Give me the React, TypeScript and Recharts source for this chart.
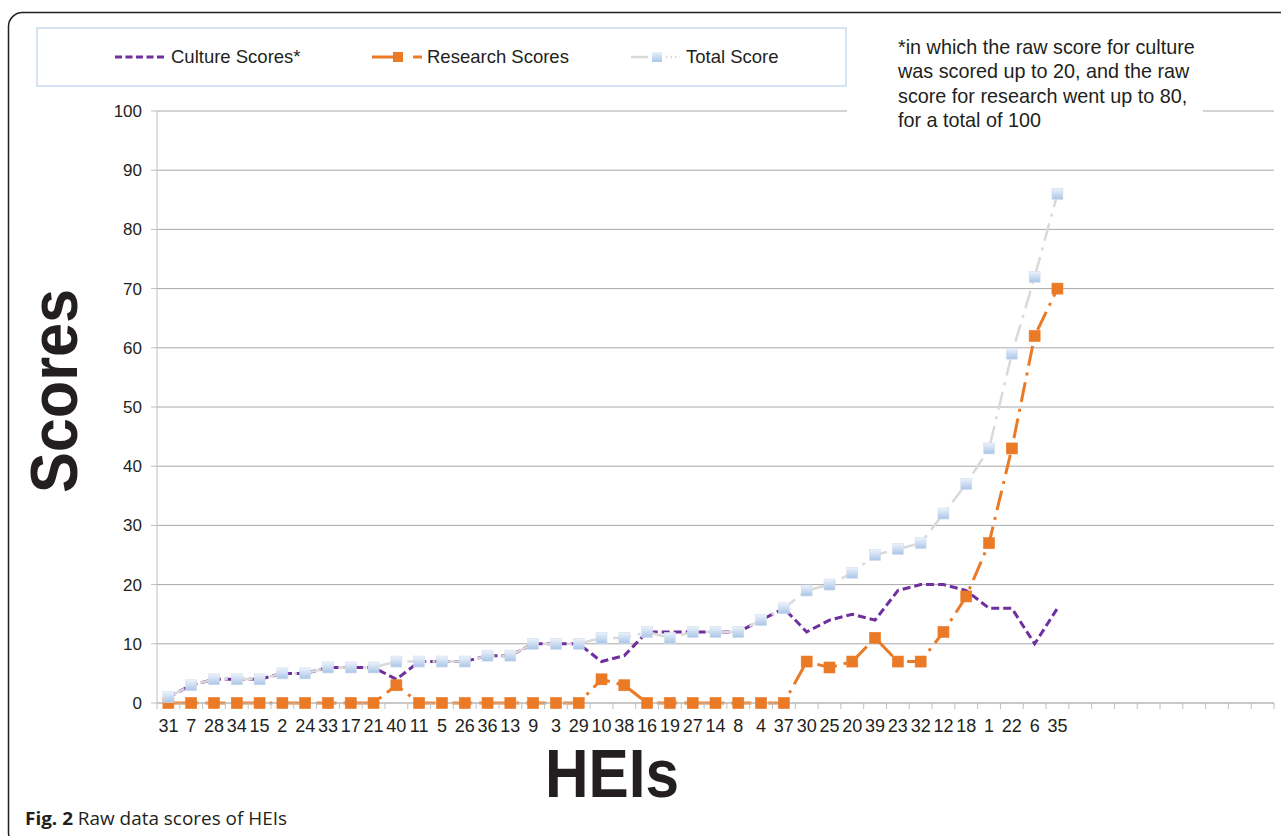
import React from 'react';
import { LineChart, Line, XAxis, YAxis, CartesianGrid } from 'recharts';

// HEIs in the order they appear on the x axis
const heis = ['31', '7', '28', '34', '15', '2', '24', '33', '17', '21', '40', '11', '5', '26', '36', '13', '9', '3', '29', '10',
    '38', '16', '19', '27', '14', '8', '4', '37', '30', '25', '20', '39', '23', '32', '12', '18', '1', '22', '6', '35'];

const cultureScores = [1, 3, 4, 4, 4, 5, 5, 6, 6, 6, 4, 7, 7, 7, 8, 8, 10, 10, 10, 7,
    8, 12, 12, 12, 12, 12, 14, 16, 12, 14, 15, 14, 19, 20, 20, 19, 16, 16, 10, 16];

const researchScores = [0, 0, 0, 0, 0, 0, 0, 0, 0, 0, 3, 0, 0, 0, 0, 0, 0, 0, 0, 4,
    3, 0, 0, 0, 0, 0, 0, 0, 7, 6, 7, 11, 7, 7, 12, 18, 27, 43, 62, 70];

const totalScores = [1, 3, 4, 4, 4, 5, 5, 6, 6, 6, 7, 7, 7, 7, 8, 8, 10, 10, 10, 11,
    11, 12, 11, 12, 12, 12, 14, 16, 19, 20, 22, 25, 26, 27, 32, 37, 43, 59, 72, 86];

// the excel axis keeps going with empty categories after the last HEI
const emptyCategories = 9;

const yTicks = [0, 10, 20, 30, 40, 50, 60, 70, 80, 90, 100];

const FONT = '"Liberation Sans", Arial, Helvetica, sans-serif';
const TEXT = '#231f20';
const ORANGE = '#eb7a26';
const PURPLE = '#6f2f9f';
const GREY_LINE = '#d9d9d9';
const AXIS = '#bfbfbf';
const EDGE_PAD = 11.4; // half a category on each side, like excel

const data = [
    ...heis.map((hei, i) => ({
        hei,
        culture: cultureScores[i],
        research: researchScores[i],
        total: totalScores[i],
    })),
    ...Array.from({ length: emptyCategories }, () => ({ hei: '' })),
];

// tick marks sit between categories like in excel
const HeiTick = (props: any) => {
    const { x, y, payload, width, visibleTicksCount } = props;
    const count = visibleTicksCount || data.length;
    const half = width ? (width - 2 * EDGE_PAD) / (count - 1) / 2 : EDGE_PAD;
    return (
        <g>
            {payload.index === 0 && <line x1={x - half} x2={x - half} y1={y} y2={y + 6} stroke={AXIS} />}
            <line x1={x + half} x2={x + half} y1={y} y2={y + 6} stroke={AXIS} />
            <text x={x} y={y + 28.5} textAnchor="middle" fontSize={18} fill={TEXT} fontFamily={FONT}>
                {payload.value}
            </text>
        </g>
    );
};

const squareDot = (fill: string, stroke: string, size: number) => (props: any) => {
    const { cx, cy, index } = props;
    if (cx == null || cy == null || Number.isNaN(cy)) return <g key={`e${index}`} />;
    return (
        <rect
            key={`d${index}`}
            x={cx - size / 2}
            y={cy - size / 2}
            width={size}
            height={size}
            fill={fill}
            stroke={stroke}
            strokeWidth={0.6}
        />
    );
};

const Overlay = () => (
    <svg
        width={1281}
        height={836}
        style={{ position: 'absolute', left: 0, top: 0, pointerEvents: 'none', fontFamily: FONT }}
    >
        <defs>
            <linearGradient id="legendTotal" x1="0" y1="0" x2="0" y2="1">
                <stop offset="0" stopColor="#e9f1fb" />
                <stop offset="1" stopColor="#a9c5e8" />
            </linearGradient>
        </defs>

        {/* figure frame */}
        <rect x={8.5} y={12.5} width={1300} height={834} rx={14} fill="none" stroke={TEXT} strokeWidth={1.5} />

        {/* legend */}
        <rect x={37} y={28} width={809} height={58} fill="#fff" stroke="#c8daf0" strokeWidth={1.5} />
        <line x1={115} x2={167} y1={57} y2={57} stroke={PURPLE} strokeWidth={3} strokeDasharray="7 3.5" />
        <text x={171} y={63} fontSize={18.5} fill={TEXT}>Culture Scores*</text>

        <line x1={372} x2={393} y1={57} y2={57} stroke={ORANGE} strokeWidth={3} />
        <rect x={393} y={52} width={10} height={10} fill={ORANGE} />
        <line x1={413} x2={422} y1={57} y2={57} stroke={ORANGE} strokeWidth={3} />
        <text x={427} y={63} fontSize={18.5} fill={TEXT}>Research Scores</text>

        <line x1={631} x2={648} y1={57} y2={57} stroke={GREY_LINE} strokeWidth={2.5} />
        <rect x={652} y={52} width={10} height={10} fill="url(#legendTotal)" />
        <line x1={666} x2={680} y1={57} y2={57} stroke={GREY_LINE} strokeWidth={2.5} strokeDasharray="1.5 3" />
        <text x={686} y={63} fontSize={18.5} fill={TEXT}>Total Score</text>

        {/* note box, covers the 100 gridline */}
        <rect x={847} y={32} width={356} height={102} fill="#fff" />
        <text x={898} y={53.5} fontSize={19.8} fill={TEXT}>*in which the raw score for culture</text>
        <text x={898} y={78} fontSize={19.8} fill={TEXT}>was scored up to 20, and the raw</text>
        <text x={898} y={102.5} fontSize={19.8} fill={TEXT}>score for research went up to 80,</text>
        <text x={898} y={127} fontSize={19.8} fill={TEXT}>for a total of 100</text>

        {/* axis titles */}
        <text
            transform="translate(77,391) rotate(-90)"
            textAnchor="middle"
            fontSize={66}
            fontWeight="bold"
            fill={TEXT}
            textLength={204}
            lengthAdjust="spacingAndGlyphs"
        >
            Scores
        </text>
        <text
            x={612}
            y={797}
            textAnchor="middle"
            fontSize={68}
            fontWeight="bold"
            fill={TEXT}
            textLength={134}
            lengthAdjust="spacingAndGlyphs"
        >
            HEIs
        </text>

        {/* caption */}
        <text x={25} y={825} fontSize={18} fill={TEXT} fontFamily='"Open Sans", sans-serif' textLength={262} lengthAdjust="spacingAndGlyphs">
            <tspan fontWeight="bold">Fig. 2</tspan>
            <tspan> Raw data scores of HEIs</tspan>
        </text>
    </svg>
);

const App = () => {
    return (
        <div style={{ position: 'absolute', left: 0, top: 0, width: 1281, height: 836, overflow: 'hidden', background: '#fff' }}>
            <div style={{ position: 'absolute', left: 0, top: 0 }}>
                <LineChart
                    width={1281}
                    height={836}
                    data={data}
                    margin={{ top: 111, right: 7, left: 100, bottom: 103 }}
                    style={{ fontFamily: FONT }}
                >
                    <defs>
                        <linearGradient id="totalFill" x1="0" y1="0" x2="0" y2="1">
                            <stop offset="0" stopColor="#edf3fb" />
                            <stop offset="1" stopColor="#a9c5e8" />
                        </linearGradient>
                    </defs>
                    <CartesianGrid vertical={false} stroke="#a8a8a8" />
                    <XAxis
                        dataKey="hei"
                        interval={0}
                        height={30}
                        padding={{ left: EDGE_PAD, right: EDGE_PAD }}
                        tickSize={0}
                        tickMargin={0}
                        tickLine={false}
                        axisLine={{ stroke: AXIS }}
                        tick={(p: any) => <HeiTick {...p} />}
                    />
                    <YAxis
                        domain={[0, 100]}
                        ticks={yTicks}
                        interval={0}
                        width={57}
                        tickSize={6}
                        tickMargin={9}
                        axisLine={{ stroke: AXIS }}
                        tickLine={{ stroke: AXIS }}
                        tick={{ fontSize: 17, fill: TEXT, fontFamily: FONT }}
                    />
                    <Line
                        dataKey="culture"
                        stroke={PURPLE}
                        strokeWidth={3}
                        strokeDasharray="8 4"
                        dot={false}
                        activeDot={false}
                        isAnimationActive={false}
                    />
                    <Line
                        dataKey="research"
                        stroke={ORANGE}
                        strokeWidth={3}
                        strokeDasharray="20 7 3 7"
                        dot={squareDot(ORANGE, ORANGE, 11)}
                        activeDot={false}
                        isAnimationActive={false}
                    />
                    <Line
                        dataKey="total"
                        stroke={GREY_LINE}
                        strokeWidth={2.5}
                        strokeDasharray="18 7 3 7"
                        dot={squareDot('url(#totalFill)', '#d3deeb', 11)}
                        activeDot={false}
                        isAnimationActive={false}
                    />
                </LineChart>
            </div>
            <Overlay />
        </div>
    );
};

export default App;
